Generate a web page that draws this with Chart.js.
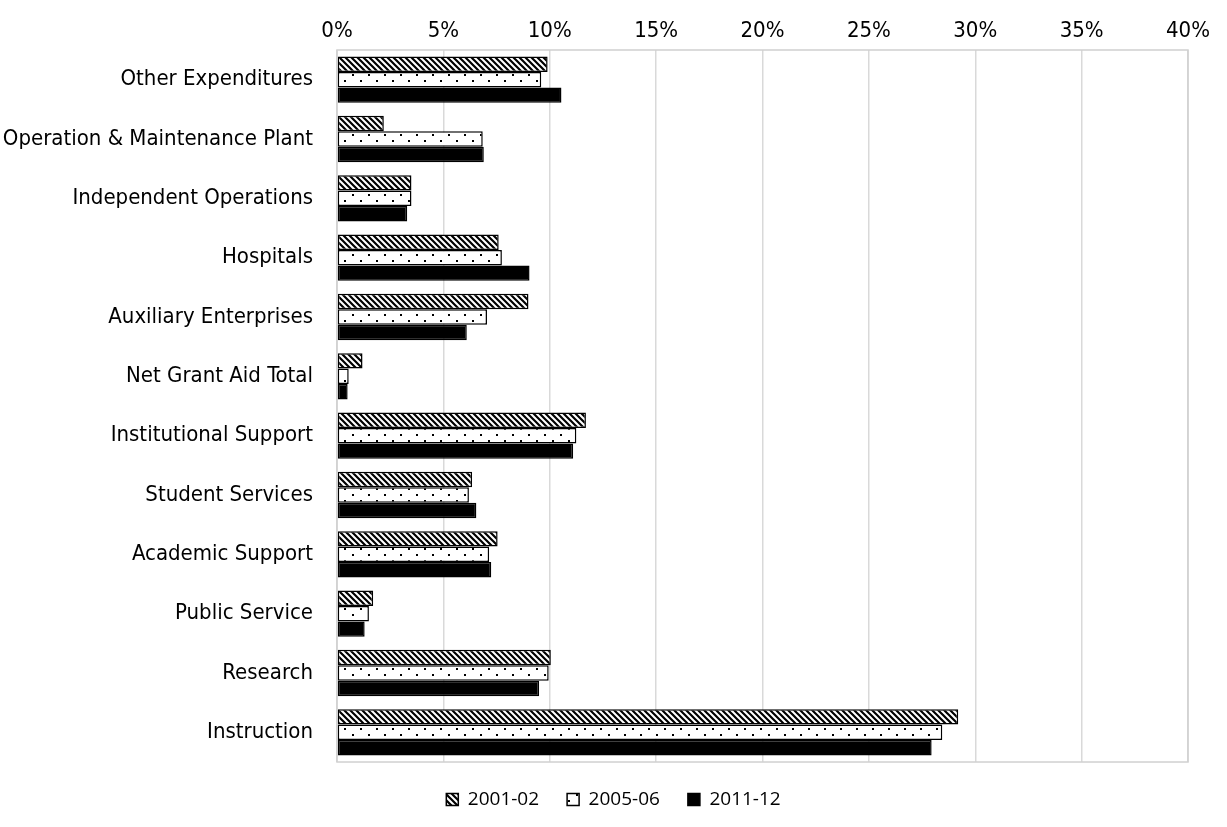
<!DOCTYPE html>
<html>
<head>
<meta charset="utf-8">
<script src="https://cdn.jsdelivr.net/npm/chart.js@4.4.1/dist/chart.umd.min.js"></script>
<style>
  html, body { margin: 0; padding: 0; background: #fff; }
  #wrap { width: 1227px; height: 827px; position: relative; }
</style>
</head>
<body>
<div id="wrap"><canvas id="chart"></canvas></div>
<script>
const categories = [
  'Other Expenditures', 'Operation & Maintenance Plant', 'Independent Operations',
  'Hospitals', 'Auxiliary Enterprises', 'Net Grant Aid Total', 'Institutional Support',
  'Student Services', 'Academic Support', 'Public Service', 'Research', 'Instruction'
];
const years = ['2001-02', '2005-06', '2011-12'];

// share of total expenditures, percent
const share2001 = [9.9, 2.2, 3.5, 7.6, 9.0, 1.2, 11.7, 6.35, 7.55, 1.7, 10.05, 29.2];
const share2005 = [9.6, 6.85, 3.5, 7.75, 7.05, 0.55, 11.25, 6.2, 7.15, 1.5, 9.95, 28.45];
const share2011 = [10.55, 6.9, 3.3, 9.05, 6.1, 0.5, 11.1, 6.55, 7.25, 1.3, 9.5, 27.95];

const tickValues = [0, 5, 10, 15, 20, 25, 30, 35, 40];

(function(){
  const canvas = document.getElementById('chart');
  if (!canvas || !window.Chart) return;
  const ctx = canvas.getContext('2d');
  const narrow = '"Liberation Sans Narrow", "Arial Narrow", "DejaVu Sans Condensed", sans-serif';

  // diagonal hatch, black on white
  function hatch() {
    const t = document.createElement('canvas');
    t.width = 6; t.height = 6;
    const c = t.getContext('2d');
    c.fillStyle = '#fff'; c.fillRect(0, 0, 6, 6);
    c.strokeStyle = '#000'; c.lineWidth = 2.2;
    c.beginPath();
    c.moveTo(-1, -1); c.lineTo(7, 7);
    c.moveTo(-4, 2); c.lineTo(4, 10);
    c.moveTo(2, -4); c.lineTo(10, 4);
    c.stroke();
    return ctx.createPattern(t, 'repeat');
  }
  // sparse staggered dots on white
  function dots() {
    const t = document.createElement('canvas');
    t.width = 16; t.height = 12;
    const c = t.getContext('2d');
    c.fillStyle = '#fff'; c.fillRect(0, 0, 16, 12);
    c.fillStyle = '#000';
    c.fillRect(0, 2, 2, 2);
    c.fillRect(8, 8, 2, 2);
    return ctx.createPattern(t, 'repeat');
  }

  const fills = [hatch(), dots(), '#000'];
  const series = [share2001, share2005, share2011];

  const plotBox = {
    id: 'plotBox',
    // center the legend on the whole canvas, not on the padded box
    afterLayout(chart) {
      const lg = chart.legend;
      if (lg) { lg.left = 0; lg.right = chart.width; lg.width = chart.width; }
    },
    afterDraw(chart) {
      const a = chart.chartArea, c = chart.ctx;
      c.save();
      c.strokeStyle = '#d0d0d0'; c.lineWidth = 1.5;
      c.strokeRect(a.left, a.top, a.right - a.left, a.bottom - a.top);
      c.restore();
    }
  };

  new Chart(ctx, {
    type: 'bar',
    data: {
      labels: categories,
      datasets: years.map((y, i) => ({
        label: y,
        data: series[i],
        backgroundColor: fills[i],
        borderColor: '#000',
        borderWidth: 1.5,
        borderSkipped: false,
        categoryPercentage: 0.78,
        barPercentage: 1.0
      }))
    },
    plugins: [plotBox],
    options: {
      indexAxis: 'y',
      responsive: true,
      maintainAspectRatio: false,
      animation: false,
      layout: { padding: { top: 0, right: 39, bottom: 8, left: 0 } },
      scales: {
        x: {
          position: 'top',
          min: 0, max: 40,
          afterFit(scale) { scale.height = 50; },
          afterBuildTicks(scale) { scale.ticks = tickValues.map(v => ({ value: v })); },
          ticks: {
            color: '#000',
            padding: 6,
            font: { family: narrow, size: 22 },
            callback: v => v + '%'
          },
          grid: { color: '#d9d9d9', lineWidth: 1.5, drawTicks: false },
          border: { display: false }
        },
        y: {
          afterFit(scale) { scale.width = 337; },
          ticks: {
            color: '#000',
            padding: 24,
            font: { family: narrow, size: 22 }
          },
          grid: { display: false, drawTicks: false },
          border: { display: false }
        }
      },
      plugins: {
        legend: {
          position: 'bottom',
          labels: {
            boxWidth: 12, boxHeight: 12,
            padding: 28,
            color: '#000',
            font: { family: '"Open Sans", sans-serif', size: 19 }
          }
        },
        tooltip: { enabled: false }
      }
    }
  });
})();
</script>
</body>
</html>
